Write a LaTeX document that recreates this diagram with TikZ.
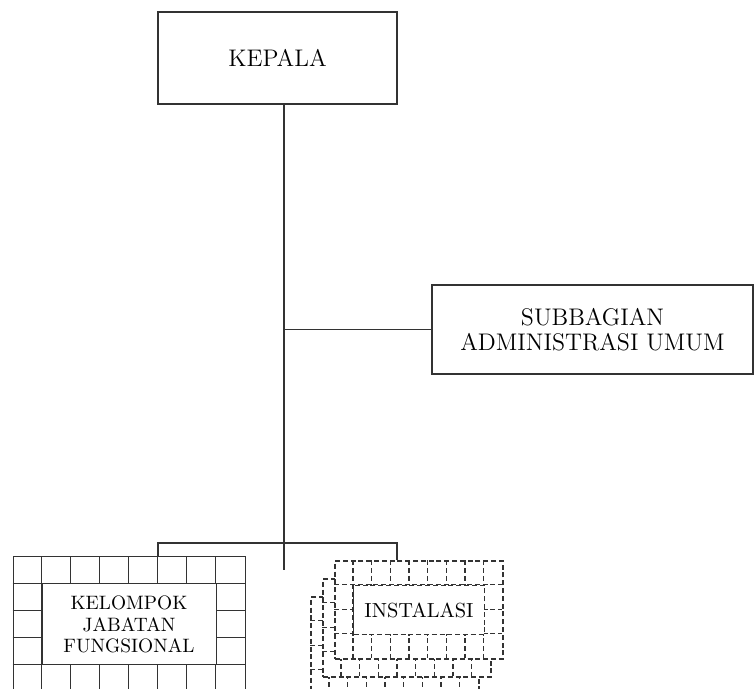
\documentclass[tikz,border=0pt]{standalone}
\usetikzlibrary{positioning}

\tikzset{
  unit/.style={draw=black!80, line width=0.65pt, align=center, inner sep=0pt,
    font=\fontsize{12}{12.5}\selectfont},
  gridframe/.style={draw=black!80, fill=white, line width=0.5pt, inner sep=0pt},
  gridlabel/.style={gridframe, align=center, font=\fontsize{9.7}{10.85}\selectfont},
  gridline/.style={draw=black!80, line width=0.5pt},
  dashgrid/.style={line width=0.6pt, dash pattern=on 2.5pt off 1.4pt},
  link/.style={draw=black!80, line width=0.6pt},
}

\newcommand\gridlines[6]{%
  \pgfmathtruncatemacro\glcols{#2-1}%
  \pgfmathtruncatemacro\glrows{#3-1}%
  \foreach \i in {1,...,\glcols}
    \draw[gridline,#6] (#1.north west) ++(\i*#4,0) -- ++(0,#3*#5);
  \foreach \j in {1,...,\glrows}
    \draw[gridline,#6] (#1.north west) ++(0,\j*#5) -- ++(#2*#4,0);
}

\begin{document}
\begin{tikzpicture}[x=0.5pt, y=-0.5pt]
            \path[use as bounding box] (0,0) rectangle (756,689);
            \clip (0,0) rectangle (756,689);

            \node[unit, minimum width=119.5pt, minimum height=46pt] (kepala) at (277.5,58) {KEPALA};
            \node[unit, minimum width=160.5pt, minimum height=44.5pt] (sub) at (592.5,329.5)
              {SUBBAGIAN\\ADMINISTRASI UMUM};

            \coordinate (trunk) at (284,570);
            \coordinate (fork) at (284,543);
            \coordinate (fork left) at (158,543);
            \coordinate (fork right) at (397,543);

            \node[gridframe, minimum width=116pt, minimum height=67.5pt] (kjf) at (129,624.5) {};
            \gridlines{kjf}{8}{5}{29}{27}{}
            \node[gridlabel, minimum width=87pt, minimum height=40.5pt] (kjf label) at (kjf)
              {KELOMPOK\\JABATAN\\FUNGSIONAL};

            \node[gridframe, dashgrid, minimum width=84pt, minimum height=49pt] (inst c) at (395,646) {};
            \gridlines{inst c}{9}{4}{18.67}{24.5}{dashgrid}
            \node[gridframe, dashgrid, minimum width=84pt, minimum height=49pt] (inst b) at (407,628) {};
            \gridlines{inst b}{9}{4}{18.67}{24.5}{dashgrid}
            \node[gridframe, dashgrid, minimum width=84pt, minimum height=49pt] (inst a) at (419,610) {};
            \gridlines{inst a}{9}{4}{18.67}{24.5}{dashgrid}
            \node[gridlabel, dashgrid, minimum width=65.3pt, minimum height=24.5pt,
              font=\fontsize{10.2}{11}\selectfont] (inst label) at (inst a) {INSTALASI};

            \draw[link] (kepala.south -| trunk) -- (trunk);
            \draw[link] (trunk |- sub.west) -- (sub.west);
            \draw[link] (fork left |- kjf.north) -- (fork left) -- (fork right) -- (fork right |- inst a.north);
          \end{tikzpicture}
\end{document}
